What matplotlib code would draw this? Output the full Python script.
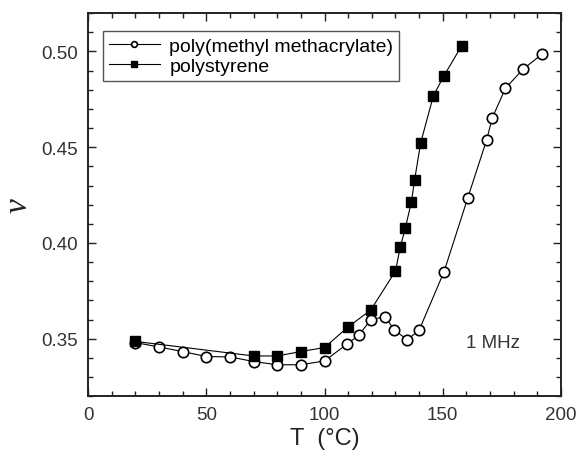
import matplotlib
matplotlib.use('Agg')
import matplotlib.pyplot as plt
from matplotlib.ticker import MultipleLocator

plt.rcParams['font.family'] = ['Liberation Sans', 'DejaVu Sans']

# poly(methyl methacrylate), open circles
pmma_t = [20, 30, 40, 50, 60, 70, 80, 90, 100, 109.5, 114.5, 119.5, 125.5,
          129.5, 135, 140, 150.5, 160.5, 168.5, 171, 176.5, 184, 192]
pmma_v = [0.348, 0.3457, 0.3433, 0.3407, 0.3405, 0.3381, 0.3364, 0.3364, 0.3384,
          0.3472, 0.3519, 0.3598, 0.3616, 0.3546, 0.3494, 0.3545, 0.3849,
          0.4233, 0.4537, 0.4655, 0.4808, 0.4908, 0.4986]

# polystyrene, filled squares
ps_t = [20, 70, 80, 90, 100, 110, 119.5, 130, 132, 134.2, 136.7, 138.1,
        140.6, 146, 150.5, 158]
ps_v = [0.3486, 0.341, 0.341, 0.3433, 0.3454, 0.3562, 0.3649, 0.3853, 0.3977,
        0.408, 0.4213, 0.433, 0.452, 0.4768, 0.4873, 0.503]

fig = plt.figure(figsize=(5.79, 4.56), dpi=100)
ax = fig.add_axes([0.152, 0.129, 0.817, 0.840])

ax.plot(pmma_t, pmma_v, color='black', lw=0.8, marker='o', ms=7.5,
        mfc='white', mec='black', mew=1.2, label='poly(methyl methacrylate)')
ax.plot(ps_t, ps_v, color='black', lw=0.8, marker='s', ms=7,
        mfc='black', mec='black', label='polystyrene')

ax.set_xlim(0, 200)
ax.set_ylim(0.32, 0.52)
ax.xaxis.set_major_locator(MultipleLocator(50))
ax.xaxis.set_minor_locator(MultipleLocator(10))
ax.yaxis.set_major_locator(MultipleLocator(0.05))
ax.yaxis.set_minor_locator(MultipleLocator(0.01))
ax.yaxis.set_major_formatter(matplotlib.ticker.FormatStrFormatter('%.2f'))
ax.tick_params(which='both', direction='in', top=True, right=True,
               labelsize=13.5, width=1.0, colors='#222222', labelcolor='#333333')
ax.tick_params(which='major', length=6, pad=7)
ax.tick_params(which='minor', length=3.5)
for s in ax.spines.values():
    s.set_linewidth(1.4)
    s.set_color('#222222')

ax.set_xlabel('T  (\u00b0C)', fontsize=17, color='#222222', labelpad=3)
ax.set_ylabel('\u03bd', fontsize=24, family='Liberation Serif', style='italic',
              color='#222222', labelpad=6)

ax.text(160, 0.348, '1 MHz', fontsize=13.5, color='#333333', va='center')

leg = ax.legend(loc='upper left', bbox_to_anchor=(0.032, 0.953), fontsize=14,
                markerscale=0.55, handlelength=2.6, handletextpad=0.5,
                borderpad=0.3, labelspacing=0.15, borderaxespad=0,
                fancybox=False, framealpha=1)
leg.get_frame().set_edgecolor('#555555')
leg.get_frame().set_linewidth(1.0)

fig.savefig('out.png', dpi=100)
